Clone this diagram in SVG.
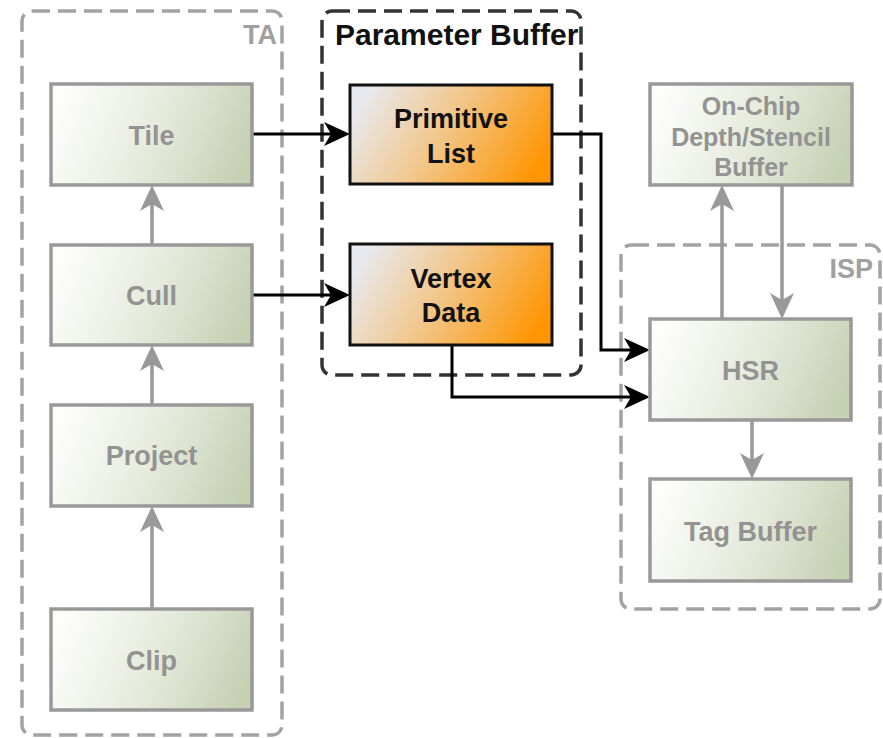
<svg xmlns="http://www.w3.org/2000/svg" width="883" height="738" viewBox="0 0 883 738">
  <style>
    .cont-gray { fill: none; stroke: #a3a3a3; stroke-width: 3.5; stroke-dasharray: 18 8; }
    .cont-dark { fill: none; stroke: #333333; stroke-width: 3.5; stroke-dasharray: 18 8; }
    .cont-label-gray { font-family: "Liberation Sans", Arial, sans-serif; font-weight: bold; font-size: 27px; fill: #a0a0a0; }
    .cont-label-dark { font-family: "Liberation Sans", Arial, sans-serif; font-weight: bold; font-size: 30px; fill: #111111; }
    .gnode { fill: url(#gGreen); stroke: #999999; stroke-width: 3.5; }
    .onode { fill: url(#gOrange); stroke: #111111; stroke-width: 3; }
    .gtext { font-family: "Liberation Sans", Arial, sans-serif; font-weight: bold; font-size: 27px; fill: #939393; text-anchor: middle; }
    .otext { font-family: "Liberation Sans", Arial, sans-serif; font-weight: bold; font-size: 27px; fill: #111111; text-anchor: middle; }
    .gline { fill: none; stroke: #999999; stroke-width: 3.5; marker-end: url(#arrGray); }
    .bline { fill: none; stroke: #000000; stroke-width: 3; marker-end: url(#arrBlack); }
  </style>
  <defs>
    <linearGradient id="gGreen" x1="0" y1="0.4" x2="1" y2="0.6">
      <stop offset="0" stop-color="#fdfdfc"/>
      <stop offset="0.5" stop-color="#e6ebdd"/>
      <stop offset="1" stop-color="#c6d0b3"/>
    </linearGradient>
    <linearGradient id="gOrange" x1="0" y1="0.35" x2="1" y2="0.65">
      <stop offset="0" stop-color="#e8e9ee"/>
      <stop offset="0.45" stop-color="#f2c68a"/>
      <stop offset="1" stop-color="#ff9500"/>
    </linearGradient>
    <marker id="arrGray" markerUnits="userSpaceOnUse" markerWidth="26" markerHeight="24" viewBox="0 0 26 24" refX="22" refY="12" orient="auto">
      <path d="M0,0 L26,12 L0,24 L7,12 Z" fill="#999999"/>
    </marker>
    <marker id="arrBlack" markerUnits="userSpaceOnUse" markerWidth="26" markerHeight="24" viewBox="0 0 26 24" refX="22" refY="12" orient="auto">
      <path d="M0,0 L26,12 L0,24 L7,12 Z" fill="#000000"/>
    </marker>
  </defs>

  <g id="container-TA">
    <rect class="cont-gray" x="22" y="11" width="260" height="724" rx="10"/>
    <text class="cont-label-gray" x="277" y="44" text-anchor="end">TA</text>
  </g>
  <g id="container-ParameterBuffer">
    <rect class="cont-dark" x="322" y="11" width="259" height="364" rx="10"/>
    <text class="cont-label-dark" x="335" y="45">Parameter Buffer</text>
  </g>
  <g id="container-ISP">
    <rect class="cont-gray" x="621" y="245" width="259" height="364" rx="10"/>
    <text class="cont-label-gray" x="873" y="278" text-anchor="end">ISP</text>
  </g>

  <g id="connectors">
    <path class="gline" d="M152,245 L152,189"/>
    <path class="gline" d="M152,405 L152,349"/>
    <path class="gline" d="M152,609 L152,510"/>
    <path class="gline" d="M722,319 L722,189"/>
    <path class="gline" d="M782,185 L782,315"/>
    <path class="gline" d="M752,420 L752,475"/>
    <path class="bline" d="M252,134 L346,134"/>
    <path class="bline" d="M252,295 L346,295"/>
    <path class="bline" d="M552,134 L601,134 L601,350 L646,350"/>
    <path class="bline" d="M452,345 L452,397 L646,397"/>
  </g>

  <g id="node-Tile">
    <rect class="gnode" x="51" y="84" width="201" height="101"/>
    <text class="gtext" x="151.5" y="145">Tile</text>
  </g>
  <g id="node-Cull">
    <rect class="gnode" x="51" y="245" width="201" height="100"/>
    <text class="gtext" x="151.5" y="305">Cull</text>
  </g>
  <g id="node-Project">
    <rect class="gnode" x="51" y="405" width="201" height="101"/>
    <text class="gtext" x="151.5" y="465">Project</text>
  </g>
  <g id="node-Clip">
    <rect class="gnode" x="51" y="609" width="201" height="101"/>
    <text class="gtext" x="151.5" y="670">Clip</text>
  </g>
  <g id="node-PrimitiveList">
    <rect class="onode" x="350" y="85" width="202" height="99"/>
    <text class="otext" x="451" y="128">Primitive</text>
    <text class="otext" x="451" y="163">List</text>
  </g>
  <g id="node-VertexData">
    <rect class="onode" x="350" y="244" width="202" height="101"/>
    <text class="otext" x="451" y="288">Vertex</text>
    <text class="otext" x="451" y="322">Data</text>
  </g>
  <g id="node-DepthStencil">
    <rect class="gnode" x="650" y="84" width="202" height="101"/>
    <text class="gtext" x="751" y="115" style="font-size:25px">On-Chip</text>
    <text class="gtext" x="751" y="146" style="font-size:25px">Depth/Stencil</text>
    <text class="gtext" x="751" y="176" style="font-size:25px">Buffer</text>
  </g>
  <g id="node-HSR">
    <rect class="gnode" x="650" y="319" width="201" height="101"/>
    <text class="gtext" x="750.5" y="380">HSR</text>
  </g>
  <g id="node-TagBuffer">
    <rect class="gnode" x="650" y="479" width="201" height="102"/>
    <text class="gtext" x="750.5" y="541">Tag Buffer</text>
  </g>
</svg>
